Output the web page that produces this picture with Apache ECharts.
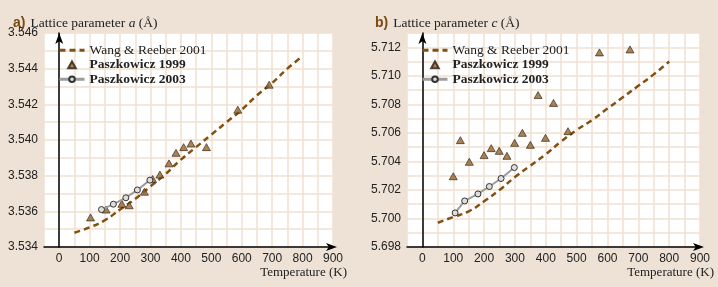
<!DOCTYPE html>
<html lang="en">
<head>
    <meta charset="UTF-8">
    <title>Lattice parameters vs temperature</title>
    <script src="https://cdn.jsdelivr.net/npm/echarts@6/dist/echarts.min.js"></script>
    <style>
        html, body { margin: 0; padding: 0; background: #ede2d5; }
        #chart { width: 718px; height: 287px; }
    </style>
</head>
<body>
    <div id="chart"></div>
    <script>
        // temperature (K) for the Wang & Reeber curves
        const wangT = [50, 100, 150, 200, 250, 300, 350, 400, 450, 500, 550, 600, 650, 700, 750, 800];
        const wangA = [3.5348, 3.5351, 3.5355, 3.5361, 3.5367, 3.5374, 3.5381, 3.5389, 3.5396, 3.5403, 3.5410, 3.5417, 3.5425, 3.5432, 3.5440, 3.5447];
        const wangC = [5.6997, 5.7001, 5.7005, 5.7012, 5.7020, 5.7029, 5.7037, 5.7045, 5.7054, 5.7062, 5.7069, 5.7077, 5.7085, 5.7093, 5.7101, 5.7110];

        // Paszkowicz 1999 (triangles)
        const p99aT = [103, 154, 206, 230, 280, 307, 331, 361, 384, 409, 433, 484, 587, 690];
        const p99a = [3.53566, 3.5361, 3.53642, 3.53634, 3.5371, 3.53781, 3.53806, 3.53869, 3.53928, 3.5396, 3.5398, 3.5396, 3.5417, 3.5431];
        const p99cT = [100, 123, 152, 200, 223, 249, 274, 299, 324, 350, 375, 399, 425, 472, 574, 673];
        const p99c = [5.70296, 5.70549, 5.70397, 5.70444, 5.70493, 5.70474, 5.70439, 5.7053, 5.706, 5.70516, 5.70865, 5.70565, 5.7081, 5.70612, 5.71164, 5.71185];

        // Paszkowicz 2003 (circles)
        const p03aT = [139, 178, 219, 257, 298];
        const p03a = [3.5361, 3.5364, 3.53676, 3.5372, 3.53775];
        const p03cT = [106, 137, 180, 217, 255, 298];
        const p03c = [5.70039, 5.70123, 5.70172, 5.70224, 5.7028, 5.70357];

        const xTicks = ['0', '100', '200', '300', '400', '500', '600', '700', '800', '900'];
        const legendNames = ['Wang & Reeber 2001', 'Paszkowicz 1999', 'Paszkowicz 2003'];

        function pairs(xs, ys) {
            return xs.map(function (x, i) { return [x, ys[i]]; });
        }

        const brown = '#83500f';
        const gridColor = '#f0e1d0';
        const labelFont = 'Liberation Sans';
        const serif = 'Liberation Serif';

        function xAxisOpt(idx) {
            return {
                gridIndex: idx,
                type: 'value',
                min: -50,
                max: 900,
                interval: 50,
                name: 'Temperature (K)',
                nameLocation: 'end',
                nameGap: 14,
                nameMoveOverlap: false,
                nameTextStyle: {
                    color: '#222', fontSize: 13, fontFamily: serif,
                    align: 'right', verticalAlign: 'top', padding: [19, 0, 0, 0]
                },
                axisLine: { lineStyle: { color: '#000', width: 1.5 }, symbol: ['none', 'arrow'], symbolSize: [6, 11], symbolOffset: [0, 4] },
                axisTick: { show: false },
                axisLabel: {
                    color: '#222', fontSize: 12, fontFamily: labelFont, margin: 6,
                    formatter: function (v) {
                        return (v >= 0 && v % 100 === 0) ? xTicks[v / 100] : '';
                    }
                },
                splitLine: { show: true, lineStyle: { color: gridColor, width: 1.5 } }
            };
        }

        function yAxisOpt(idx, min, max) {
            return {
                gridIndex: idx,
                type: 'value',
                min: min,
                max: max,
                interval: 0.001,
                axisLine: { lineStyle: { color: '#000', width: 1.5 }, symbol: ['none', 'arrow'], symbolSize: [6, 11] },
                axisTick: { show: false },
                axisLabel: {
                    color: '#222', fontSize: 12, fontFamily: labelFont, margin: 6,
                    formatter: function (v) {
                        return Math.round(v * 1000) % 2 === 0 ? v.toFixed(3) : '';
                    }
                },
                splitLine: { show: true, lineStyle: { color: gridColor, width: 1.5 } }
            };
        }

        function seriesFor(idx, wy, p99x, p99y, p03x, p03y) {
            return [{
                name: legendNames[0],
                type: 'line',
                xAxisIndex: idx, yAxisIndex: idx,
                smooth: true,
                showSymbol: false,
                symbol: 'none',
                lineStyle: { color: brown, width: 2.5, type: [6, 4] },
                itemStyle: { color: brown },
                data: pairs(wangT, wy),
                z: 2
            }, {
                name: legendNames[1],
                type: 'scatter',
                xAxisIndex: idx, yAxisIndex: idx,
                symbol: 'triangle',
                symbolSize: [8, 7],
                itemStyle: { color: '#95632c', borderColor: '#2b1d10', borderWidth: 0.8 },
                data: pairs(p99x, p99y),
                z: 3
            }, {
                name: legendNames[2],
                type: 'line',
                xAxisIndex: idx, yAxisIndex: idx,
                symbol: 'circle',
                symbolSize: 6,
                showSymbol: true,
                lineStyle: { color: '#9c9c9c', width: 2 },
                itemStyle: { color: '#dedede', borderColor: '#333', borderWidth: 1 },
                data: pairs(p03x, p03y),
                z: 4
            }];
        }

        function legendOpt(left) {
            return {
                left: left,
                top: 38,
                orient: 'vertical',
                itemGap: 0,
                itemWidth: 25,
                itemHeight: 7,
                textStyle: {
                    color: '#222', fontSize: 13.5, lineHeight: 14.5, fontFamily: serif,
                    rich: { b: { fontWeight: 'bold', fontSize: 13.5, lineHeight: 14.5, fontFamily: serif, color: '#222' } }
                },
                formatter: function (name) {
                    return name.indexOf('Paszkowicz') === 0 ? '{b|' + name + '}' : name;
                },
                data: [
                    { name: legendNames[0], itemStyle: { opacity: 0 }, lineStyle: { width: 3, type: [6, 4] } },
                    { name: legendNames[1], icon: 'path://M0,10 L5.5,0 L11,10 Z' },
                    { name: legendNames[2], lineStyle: { width: 3 } }
                ]
            };
        }

        const titleRich = {
            b: { color: '#7a4a12', fontWeight: 'bold', fontSize: 14, fontFamily: labelFont },
            n: { color: '#222', fontWeight: 'normal', fontSize: 13.5, fontFamily: serif },
            i: { color: '#222', fontWeight: 'normal', fontSize: 13.5, fontFamily: serif, fontStyle: 'italic' }
        };

        var myChart = echarts.init(document.getElementById('chart'));

        const option = {
            backgroundColor: '#ede2d5',
            animation: false,
            title: [{
                left: 8, top: 9,
                text: '{b|a)} {n|Lattice parameter }{i|a}{n| (Å)}',
                textStyle: { fontWeight: 'normal', rich: titleRich }
            }, {
                left: 370, top: 9,
                text: '{b|b)} {n|Lattice parameter }{i|c}{n| (Å)}',
                textStyle: { fontWeight: 'normal', rich: titleRich }
            }],
            legend: [legendOpt(53), legendOpt(416)],
            grid: [
                { left: 44, top: 33, width: 289, height: 214, show: true, backgroundColor: '#fff', borderWidth: 0, outerBoundsMode: 'none' },
                { left: 407, top: 33, width: 293, height: 214, show: true, backgroundColor: '#fff', borderWidth: 0, outerBoundsMode: 'none' }
            ],
            xAxis: [xAxisOpt(0), xAxisOpt(1)],
            yAxis: [yAxisOpt(0, 3.534, 3.546), yAxisOpt(1, 5.698, 5.713)],
            series: [].concat(
                seriesFor(0, wangA, p99aT, p99a, p03aT, p03a),
                seriesFor(1, wangC, p99cT, p99c, p03cT, p03c)
            )
        };

        myChart.setOption(option);
    </script>
</body>
</html>
